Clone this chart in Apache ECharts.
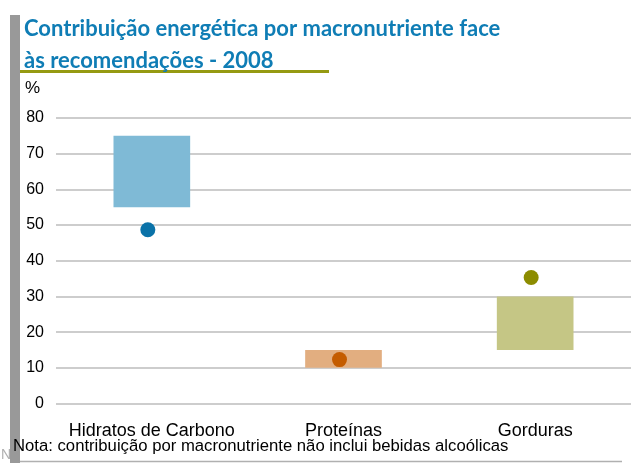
<!DOCTYPE html>
<html>
<head>
<meta charset="utf-8">
<script src="https://cdn.jsdelivr.net/npm/echarts@6/dist/echarts.min.js"></script>
<style>
  html, body { margin: 0; padding: 0; background: #fff; }
  #chart { width: 631px; height: 463px; }
</style>
</head>
<body>
<div id="chart"></div>
<script>
// recommended ranges (min / max) and the observed 2008 values
var categories = ['Hidratos de Carbono', 'Proteínas', 'Gorduras'];
var recMin = [55, 10, 15];
var recMax = [75, 15, 30];
var observed = [48.7, 12.3, 35.3];
var yTicks = [0, 10, 20, 30, 40, 50, 60, 70, 80];

var boxColors = ['#7fbad6', '#e2ae80', '#c5c685'];
var dotColors = ['#0a72a8', '#c45c00', '#8c8c00'];

var chart = echarts.init(document.getElementById('chart'));

var spanData = [];
var dotData = [];
for (var i = 0; i < categories.length; i++) {
	spanData.push({ value: recMax[i] - recMin[i], itemStyle: { color: boxColors[i] } });
	dotData.push({ value: observed[i], itemStyle: { color: dotColors[i], opacity: 1 } });
}

var option = {
	animation: false,
	title: {
		text: 'Contribuição energética por macronutriente face\nàs recomendações - 2008',
		left: 19,
		top: 8,
		textStyle: {
			fontFamily: 'Lato',
			fontWeight: 'bold',
			fontSize: 22,
			lineHeight: 32,
			color: '#0f7db5'
		}
	},
	grid: { left: 56, right: 0, top: 118, bottom: 59.5 },
	xAxis: {
		type: 'category',
		data: categories,
		axisLine: { show: false },
		axisTick: { show: false },
		axisLabel: {
			interval: 0,
			fontFamily: 'Liberation Sans',
			fontSize: 18,
			color: '#000',
			margin: 19
		}
	},
	yAxis: {
		type: 'value',
		min: yTicks[0],
		max: yTicks[yTicks.length - 1],
		interval: 10,
		axisLine: { show: false },
		axisTick: { show: false },
		splitLine: { lineStyle: { color: '#bdbdbd', width: 1.5 } },
		axisLabel: {
			fontFamily: 'Liberation Sans',
			fontSize: 16,
			color: '#000',
			margin: 12
		}
	},
	series: [{
		type: 'bar',
		stack: 'rec',
		barWidth: '40%',
		itemStyle: { color: 'transparent' },
		data: recMin,
		silent: true
	}, {
		type: 'bar',
		stack: 'rec',
		barWidth: '40%',
		data: spanData
	}, {
		type: 'scatter',
		symbol: 'circle',
		symbolSize: 15,
		symbolOffset: [-4, 0],
		data: dotData,
		z: 5
	}],
	graphic: [{
		type: 'rect',
		shape: { x: 10, y: 15, width: 10, height: 448 },
		style: { fill: '#999999' }
	}, {
		type: 'rect',
		shape: { x: 20, y: 70, width: 309, height: 3 },
		style: { fill: '#959a12' }
	}, {
		type: 'line',
		shape: { x1: 20, y1: 461.5, x2: 622, y2: 461.5 },
		style: { stroke: '#b0b0b0', lineWidth: 1.5 }
	}, {
		type: 'text',
		left: 25,
		top: 80,
		style: { text: '%', font: '17px "Liberation Sans"', fill: '#000' }
	}, {
		type: 'text',
		left: 1,
		top: 448,
		style: { text: 'N', font: '14px "Liberation Sans"', fill: '#b0b0b0' }
	}, {
		type: 'text',
		left: 13,
		top: 438,
		style: {
			text: 'Nota: contribuição por macronutriente não inclui bebidas alcoólicas',
			font: '16.7px "Liberation Sans"',
			fill: '#000'
		}
	}]
};

chart.setOption(option);
</script>
</body>
</html>
